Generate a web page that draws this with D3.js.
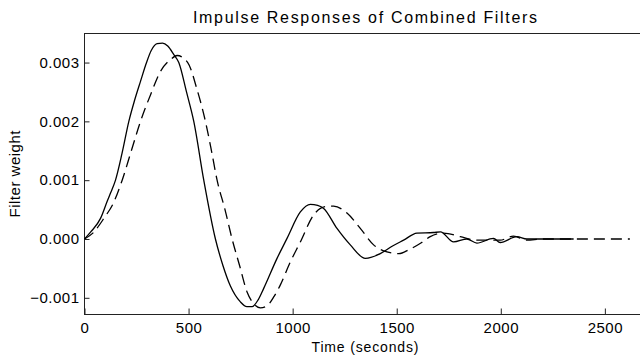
<!DOCTYPE html>
<html>
<head>
    <meta charset="utf-8">
    <title>Impulse Responses of Combined Filters</title>
    <script src="https://d3js.org/d3.v7.min.js"></script>
    <style>
        body { margin: 0; background: #fff; }
        text { font-family: "Liberation Sans", Arial, sans-serif; fill: #000; }
    </style>
</head>
<body>
    <script>
        // solid curve (seconds, weight in units of 1e-3)
        var solidTime = [0, 30, 77, 110, 125, 149, 180, 213, 240, 269, 298, 320, 349, 375, 400, 430, 453, 490, 525, 573, 629, 665, 701, 749, 780, 805, 835, 861, 925, 973, 1037, 1085, 1120, 1149, 1213, 1277, 1349, 1421, 1480, 1533, 1597, 1677, 1710, 1773, 1837, 1885, 1965, 1997, 2077, 2125, 2200, 2350];
        var solidWeight = [0, 0.12, 0.35, 0.65, 0.78, 1.0, 1.45, 2.0, 2.35, 2.68, 3.0, 3.2, 3.32, 3.33, 3.28, 3.13, 3.0, 2.5, 2.0, 1.0, 0.0, -0.45, -0.8, -1.07, -1.15, -1.15, -1.03, -0.84, -0.33, 0.01, 0.46, 0.59, 0.57, 0.52, 0.18, -0.10, -0.33, -0.25, -0.12, -0.02, 0.10, 0.11, 0.12, -0.05, 0.0, -0.07, 0.01, -0.06, 0.04, 0.0, 0.0, 0.0];

        // dashed curve
        var dashedTime = [0, 40, 93, 140, 181, 225, 269, 317, 365, 413, 445, 496, 540, 581, 610, 637, 675, 709, 745, 781, 813, 845, 875, 910, 941, 989, 1037, 1101, 1157, 1197, 1261, 1325, 1389, 1453, 1510, 1560, 1620, 1661, 1725, 1805, 1885, 1997, 2061, 2125, 2200, 2620];
        var dashedWeight = [0, 0.1, 0.35, 0.62, 1.0, 1.5, 2.0, 2.45, 2.85, 3.05, 3.12, 3.0, 2.55, 2.0, 1.5, 1.0, 0.5, 0.0, -0.45, -0.9, -1.1, -1.17, -1.14, -0.98, -0.78, -0.39, -0.05, 0.41, 0.55, 0.56, 0.44, 0.18, -0.10, -0.22, -0.25, -0.18, -0.06, 0.04, 0.10, 0.04, -0.02, -0.02, 0.05, -0.02, 0.0, 0.0];

        var xTicks = [0, 500, 1000, 1500, 2000, 2500];
        var yTicks = [-0.001, 0, 0.001, 0.002, 0.003];

        var width = 640, height = 357;
        var plotLeft = 84.5, plotTop = 33.5, plotBottom = 314.5, plotRight = 646.5;

        var svg = d3.select("body").append("svg")
            .attr("width", width)
            .attr("height", height);

        var x = d3.scaleLinear().domain([0, 2700]).range([plotLeft, plotRight]);
        var y = d3.scaleLinear().domain([-0.001284, 0.003494]).range([plotBottom, plotTop]);

        // frame
        svg.append("rect")
            .attr("x", plotLeft).attr("y", plotTop)
            .attr("width", plotRight - plotLeft).attr("height", plotBottom - plotTop)
            .attr("fill", "none").attr("stroke", "#222").attr("stroke-width", 1);

        var xAxis = svg.append("g")
            .attr("transform", "translate(0," + plotBottom + ")")
            .call(d3.axisBottom(x).tickValues(xTicks).tickSizeInner(-6).tickSizeOuter(0).tickPadding(8).tickFormat(d3.format("d")));
        var yAxis = svg.append("g")
            .attr("transform", "translate(" + plotLeft + ",0)")
            .call(d3.axisLeft(y).tickValues(yTicks).tickSizeInner(-5).tickSizeOuter(0).tickPadding(5).tickFormat(d3.format(".3f")));

        [xAxis, yAxis].forEach(function(a) {
            a.select(".domain").remove();
            a.selectAll("line").attr("stroke", "#222");
            a.selectAll("text").attr("font-size", 15).attr("letter-spacing", "0.5px")
                .attr("font-family", "Liberation Sans, Arial, sans-serif").attr("fill", "#000");
        });

        var line = d3.line()
            .x(function(d) { return x(d[0]); })
            .y(function(d) { return y(d[1] / 1000); })
            .curve(d3.curveMonotoneX);

        svg.append("path")
            .datum(d3.zip(solidTime, solidWeight))
            .attr("d", line)
            .attr("fill", "none").attr("stroke", "#000").attr("stroke-width", 1.3);

        svg.append("path")
            .datum(d3.zip(dashedTime, dashedWeight))
            .attr("d", line)
            .attr("fill", "none").attr("stroke", "#000").attr("stroke-width", 1.3)
            .attr("stroke-dasharray", "11,6");

        svg.append("text")
            .attr("x", 365).attr("y", 23)
            .attr("text-anchor", "middle")
            .attr("font-size", 16)
            .attr("textLength", 344).attr("lengthAdjust", "spacing")
            .text("Impulse Responses of Combined Filters");

        svg.append("text")
            .attr("x", 365).attr("y", 352)
            .attr("text-anchor", "middle")
            .attr("font-size", 14)
            .attr("textLength", 107).attr("lengthAdjust", "spacing")
            .text("Time (seconds)");

        svg.append("text")
            .attr("transform", "translate(20,174) rotate(-90)")
            .attr("text-anchor", "middle")
            .attr("font-size", 15)
            .attr("textLength", 87).attr("lengthAdjust", "spacing")
            .text("Filter weight");
    </script>
</body>
</html>
